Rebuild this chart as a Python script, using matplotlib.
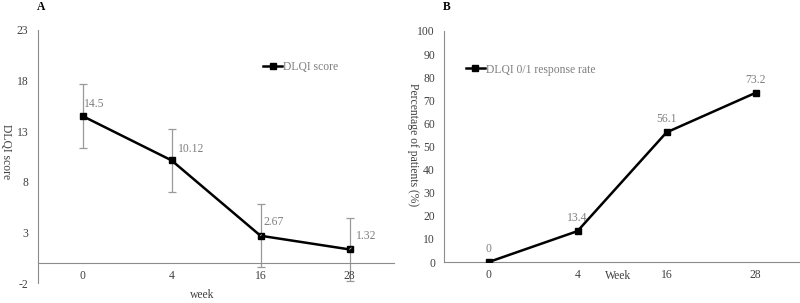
import matplotlib
matplotlib.use("Agg")
import matplotlib.pyplot as plt

plt.rcParams['font.family'] = ['Liberation Serif', 'DejaVu Serif']
plt.rcParams['axes.unicode_minus'] = False

weeks = ["0", "4", "16", "28"]
dlqi_score = [14.5, 10.12, 2.67, 1.32]
dlqi_err = [3.15, 3.1, 3.1, 3.1]
response_rate = [0, 13.4, 56.1, 73.2]

axis_gray = '#8c8c8c'
label_gray = '#7f7f7f'
text_col = '#404040'
fs = 8.4

fig = plt.figure(figsize=(8.0, 3.03), dpi=100)

# Panel A
axA = fig.add_axes([0.0475, 0.066, 0.445, 0.835])
x = list(range(len(weeks)))
axA.errorbar(x, dlqi_score, yerr=dlqi_err, fmt='none', ecolor='#999999',
             elinewidth=0.9, capsize=3, capthick=0.9, zorder=1)
axA.plot(x, dlqi_score, color='black', lw=1.8, marker='s', ms=5,
         label='DLQI score', zorder=3)
axA.set_xlim(-0.5, 3.5)
axA.set_ylim(-2, 23)
axA.set_yticks([-2, 3, 8, 13, 18, 23])
axA.set_xticks(x)
axA.set_xticklabels(weeks)
for s in ['top', 'right']:
    axA.spines[s].set_visible(False)
axA.spines['bottom'].set_position(('data', 0))
axA.spines['bottom'].set_color(axis_gray)
axA.spines['left'].set_color(axis_gray)
axA.tick_params(axis='both', length=0, labelsize=fs, colors=text_col)
axA.tick_params(axis='x', pad=5)
axA.tick_params(axis='y', pad=7)
fig.text(6 / 800, 1 - 152 / 303, 'DLQI score', rotation=270, fontsize=fs,
         color=text_col, ha='center', va='center')
axA.text(0.46, -0.047, 'week', transform=axA.transAxes, fontsize=fs,
         color=text_col, ha='center', va='center')
# data labels
axA.annotate('14.5', (0, 14.5), xytext=(1, 9), textcoords='offset points',
             fontsize=fs, color=label_gray, ha='left', va='center')
axA.annotate('10.12', (1, 10.12), xytext=(4.5, 8), textcoords='offset points',
             fontsize=fs, color=label_gray, ha='left', va='center')
axA.annotate('2.67', (2, 2.67), xytext=(2, 10), textcoords='offset points',
             fontsize=fs, color=label_gray, ha='left', va='center',
             arrowprops=dict(arrowstyle='-', color='#bbbbbb', lw=0.6,
                             shrinkA=4, shrinkB=3))
axA.annotate('1.32', (3, 1.32), xytext=(4.5, 10), textcoords='offset points',
             fontsize=fs, color=label_gray, ha='left', va='center',
             arrowprops=dict(arrowstyle='-', color='#bbbbbb', lw=0.6,
                             shrinkA=4, shrinkB=3))
legA = axA.legend(loc='upper left', bbox_to_anchor=(0.62, 0.894), frameon=False,
                  fontsize=fs, handlelength=1.6, handletextpad=0.1,
                  borderaxespad=0)
for t in legA.get_texts():
    t.set_color(label_gray)
fig.text(0.046, 0.977, 'A', fontsize=fs, fontweight='bold', ha='left', va='center')

# Panel B
axB = fig.add_axes([0.555, 0.135, 0.445, 0.763])
axB.plot(x, response_rate, color='black', lw=1.8, marker='s', ms=5,
         label='DLQI 0/1 response rate', zorder=3)
axB.set_xlim(-0.5, 3.5)
axB.set_ylim(0, 100)
axB.set_yticks(range(0, 101, 10))
axB.set_xticks(x)
axB.set_xticklabels(weeks)
for s in ['top', 'right']:
    axB.spines[s].set_visible(False)
axB.spines['bottom'].set_color(axis_gray)
axB.spines['left'].set_color(axis_gray)
axB.tick_params(axis='both', length=0, labelsize=fs, colors=text_col)
axB.tick_params(axis='x', pad=5)
axB.tick_params(axis='y', pad=6.5)
fig.text(413 / 800, 1 - 145 / 303, 'Percentage of patients (%)', rotation=270,
         fontsize=fs, color=text_col, ha='center', va='center')
axB.text(0.49, -0.06, 'Week', transform=axB.transAxes, fontsize=fs,
         color=text_col, ha='center', va='center')
for xi, v in zip(x, response_rate):
    axB.annotate(f'{v:g}', (xi, v), xytext=(0, 9.5), textcoords='offset points',
                 fontsize=fs, color=label_gray, ha='center', va='center')
legB = axB.legend(loc='upper left', bbox_to_anchor=(0.049, 0.879), frameon=False,
                  fontsize=fs, handlelength=1.6, handletextpad=0.1,
                  borderaxespad=0)
for t in legB.get_texts():
    t.set_color(label_gray)
fig.text(0.553, 0.977, 'B', fontsize=fs, fontweight='bold', ha='left', va='center')

fig.savefig('out.png', dpi=100, facecolor='white')
